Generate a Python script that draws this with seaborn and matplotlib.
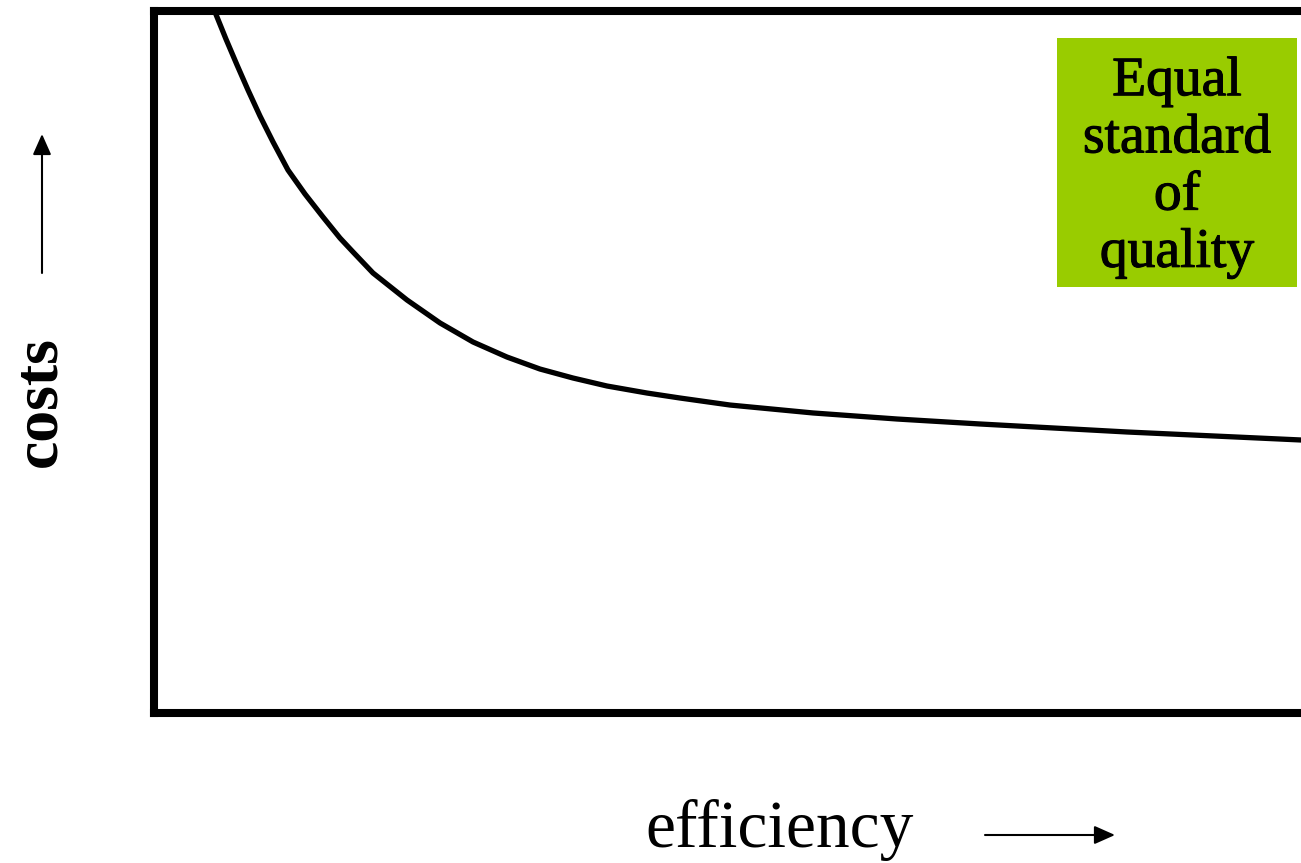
import matplotlib
matplotlib.use("Agg")
import matplotlib.pyplot as plt
from matplotlib.patches import Rectangle, FancyArrowPatch
from matplotlib import font_manager as fm
import matplotlib.patheffects as pe
import pandas as pd
import seaborn as sns

# Cost curve: costs fall steeply as efficiency rises, then level off
efficiency = [5.23, 6.17, 7.12, 8.06, 9.09, 10.21, 11.49, 12.95, 14.49, 15.95,
              17.07, 18.78, 21.70, 24.53, 27.36, 30.27, 33.10, 35.93, 38.85,
              42.28, 45.11, 49.40, 56.52, 63.72, 70.84, 83.45, 98.37, 100.0]
costs = [99.86, 96.01, 92.31, 88.75, 85.04, 81.34, 77.35, 73.93, 70.66, 67.66,
         65.67, 62.68, 58.83, 55.56, 52.85, 50.71, 49.00, 47.72, 46.58,
         45.58, 44.87, 43.87, 42.74, 41.88, 41.17, 40.03, 38.89, 38.75]

x_label = "efficiency"
y_label = "costs"
box_label = "Equal\nstandard\nof\nquality"

sns.set_theme(style="white")
plt.rcParams["font.family"] = ["Liberation Serif", "DejaVu Serif"]
plt.rcParams["text.color"] = "black"

serif_bold = fm.FontProperties(
    fname=fm.findfont(fm.FontProperties(family="Liberation Serif",
                                        weight="bold")),
    size=46)

W, H = 1301, 863
fig = plt.figure(figsize=(W / 100, H / 100), dpi=100)
fig.patch.set_facecolor("white")

# Plot frame: left/top/bottom edges visible, right edge runs off the figure
left_px, right_px, top_px, bottom_px = 154, 1320, 11, 713
ax = fig.add_axes([left_px / W, (H - bottom_px) / H,
                   (right_px - left_px) / W, (bottom_px - top_px) / H])

df = pd.DataFrame({"efficiency": efficiency, "costs": costs})
sns.lineplot(data=df, x="efficiency", y="costs", ax=ax, color="black",
             linewidth=3.8, sort=False)

ax.set_xlim(0, 100)
ax.set_ylim(0, 100)
ax.set_xticks([])
ax.set_yticks([])
ax.set_xlabel("")
ax.set_ylabel("")
for side in ("left", "top", "bottom"):
    ax.spines[side].set_visible(True)
    ax.spines[side].set_color("black")
    ax.spines[side].set_linewidth(5.8)
ax.spines["right"].set_visible(False)

# Green note box
bx0, by0, bx1, by1 = 1057, 38, 1297, 287
fig.patches.append(Rectangle((bx0 / W, (H - by1) / H), (bx1 - bx0) / W,
                             (by1 - by0) / H, transform=fig.transFigure,
                             facecolor="#99cc00", edgecolor="none", zorder=3))
fig.text((bx0 + bx1) / 2 / W, (H - 167) / H, box_label, ha="center",
         va="center", fontsize=40, linespacing=1.13, color="black", zorder=4,
         path_effects=[pe.withStroke(linewidth=0.8, foreground="black")])

# Axis titles with direction arrows
fig.text(645 / W, (H - 830) / H, x_label, ha="left", va="center",
         fontsize=48.5, color="black")
fig.text(40 / W, (H - 402) / H, y_label, ha="center", va="center",
         rotation=90, fontproperties=serif_bold, color="black")

arrow = dict(arrowstyle="-|>,head_length=0.9,head_width=0.4", color="black",
             lw=1.5, shrinkA=0, shrinkB=0, mutation_scale=14,
             transform=fig.transFigure)
fig.add_artist(FancyArrowPatch((42 / W, (H - 273) / H),
                               (42 / W, (H - 134) / H), **arrow))
fig.add_artist(FancyArrowPatch((985 / W, (H - 835) / H),
                               (1115 / W, (H - 835) / H), **arrow))

fig.savefig("out.png", dpi=100, facecolor="white")
